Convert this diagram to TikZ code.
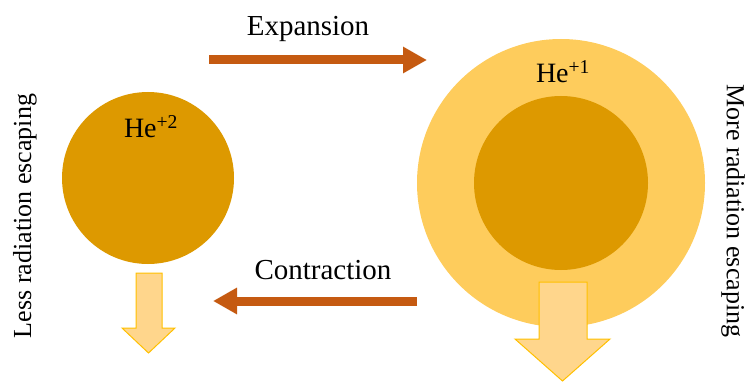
\documentclass[tikz,border=0pt]{standalone}
\usepackage{fontspec}
\setmainfont{Liberation Serif}
\usetikzlibrary{arrows.meta}

\definecolor{ionDark}{RGB}{221,153,0}
\definecolor{ionLight}{RGB}{254,204,92}
\definecolor{flowArrow}{RGB}{197,90,17}
\definecolor{rayFill}{RGB}{255,214,140}
\definecolor{rayEdge}{RGB}{255,192,0}

\tikzset{
  ion/.style={circle, inner sep=0pt, minimum size=#1},
  lbl/.style={inner sep=0pt, font=\fontsize{29}{32}\selectfont},
  flow/.style={draw=flowArrow, line width=9pt, -{Triangle[length=24pt,width=25pt]}},
  ray/.style={fill=rayFill, draw=rayEdge, line width=1pt, line join=miter}
}

\begin{document}
\begin{tikzpicture}[x=1pt,y=1pt]
    \useasboundingbox (0,0) rectangle (747,381);

    % Ionen
    \node[ion=172pt, fill=ionDark] (heII) at (148,203) {};
    \node[ion=288pt, fill=ionLight] (heIouter) at (561,198) {};
    \node[ion=174pt, fill=ionDark] (heIinner) at (561,198) {};
    \node[lbl, font=\fontsize{28}{32}\selectfont] (heIIlbl) at (151,254) {He\textsuperscript{+2}};
    \node[lbl, font=\fontsize{28}{32}\selectfont] (heIlbl) at (563,309) {He\textsuperscript{+1}};

    % Strahlungspfeile
    \filldraw[ray] (136,108) -- (162,108) -- (162,53) -- (175,53) -- (148.5,28)
        -- (122,53) -- (136,53) -- cycle;
    \filldraw[ray] (539,99) -- (587,99) -- (587,42) -- (610,42) -- (562.5,0)
        -- (515,42) -- (539,42) -- cycle;

    % Expansion / Kontraktion
    \coordinate (expA) at (209,321);
    \coordinate (expB) at (427,321);
    \coordinate (conA) at (417,80);
    \coordinate (conB) at (213,80);
    \draw[flow] (expA) -- (expB);
    \draw[flow] (conA) -- (conB);
    \node[lbl] (explbl) at (308,352) {Expansion};
    \node[lbl] (conlbl) at (323,111) {Contraction};

    % Seitentexte
    \node[lbl, font=\fontsize{26}{30}\selectfont, rotate=90] (less) at (25,165) {Less radiation escaping};
    \node[lbl, font=\fontsize{26}{30}\selectfont, rotate=-90] (more) at (733,170) {More radiation escaping};
\end{tikzpicture}
\end{document}
